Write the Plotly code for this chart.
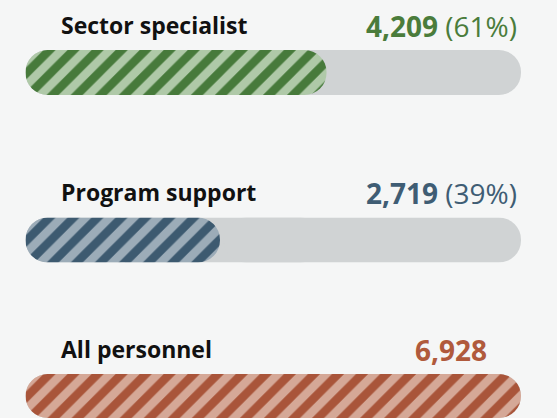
import plotly.graph_objects as go
from plotly.subplots import make_subplots

# data
categories = ["Sector specialist", "Program support", "All personnel"]
counts = [4209, 2719, 6928]
shares = ["61%", "39%", None]
total = 6928

dark = ["#477a3b", "#3d5a70", "#a9553a"]
light = ["#afc9a8", "#9cacb8", "#d5a897"]
text_color = ["#4a7c3b", "#3f5d74", "#b05a3c"]
track_color = "#d0d3d4"
bg = "#f5f6f6"

W, H = 557, 418
FONT = "Open Sans, sans-serif"

# pixel layout of the three rows (bar top, bar bottom, label centre)
rows_px = [(50, 95, 25), (217.5, 262.5, 192), (374, 418, 349)]
value_right_px = [519, 519, 489]


def pill(fig, row, value, marker_kw):
    """Two overlapping bar halves so both ends get rounded corners"""
    for base, length in ((value * 0.6, -value * 0.6), (value * 0.4, value * 0.6)):
        fig.add_bar(
            y=[0],
            x=[length],
            base=[base],
            orientation="h",
            width=1,
            marker=dict(line_width=0, cornerradius="50%", **marker_kw),
            hoverinfo="skip",
            showlegend=False,
            row=row,
            col=1,
        )


fig = make_subplots(rows=3, cols=1)

for i, (cat, n) in enumerate(zip(categories, counts)):
    r = i + 1
    pill(fig, r, total, dict(color=track_color))
    pill(
        fig,
        r,
        n,
        dict(
            color=light[i],
            pattern=dict(
                shape="/", bgcolor=light[i], fgcolor=dark[i], fgopacity=1,
                size=17, solidity=0.5, fillmode="replace",
            ),
        ),
    )

    top, bottom, label_y = rows_px[i]
    fig.update_yaxes(
        domain=[max(0, 1 - bottom / H), 1 - top / H],
        range=[-0.5, 0.5],
        visible=False,
        fixedrange=True,
        row=r,
        col=1,
    )
    fig.update_xaxes(
        domain=[25.5 / W, 521 / W],
        range=[0, total],
        visible=False,
        fixedrange=True,
        row=r,
        col=1,
    )

    fig.add_annotation(
        x=59 / W, y=1 - label_y / H, xref="paper", yref="paper",
        xanchor="left", yanchor="middle", showarrow=False,
        text=f"<b>{cat}</b>",
        font=dict(family=FONT, size=23, color="#111111"),
    )
    value_txt = f"<b>{n:,}</b>"
    if shares[i]:
        value_txt += f" ({shares[i]})"
    fig.add_annotation(
        x=value_right_px[i] / W, y=1 - (label_y + 1) / H, xref="paper", yref="paper",
        xanchor="right", yanchor="middle", showarrow=False,
        text=value_txt,
        font=dict(family=FONT, size=28, color=text_color[i]),
    )

fig.update_layout(
    width=W,
    height=H,
    barmode="overlay",
    margin=dict(l=0, r=0, t=0, b=0),
    paper_bgcolor=bg,
    plot_bgcolor=bg,
    showlegend=False,
)

# drop the browser's default 8px body margin so the figure sits at the window corner
fig.write_html(
    "out.html",
    config={"displayModeBar": False},
    post_script="document.body.style.margin='0'; document.body.style.background='%s';" % bg,
)
